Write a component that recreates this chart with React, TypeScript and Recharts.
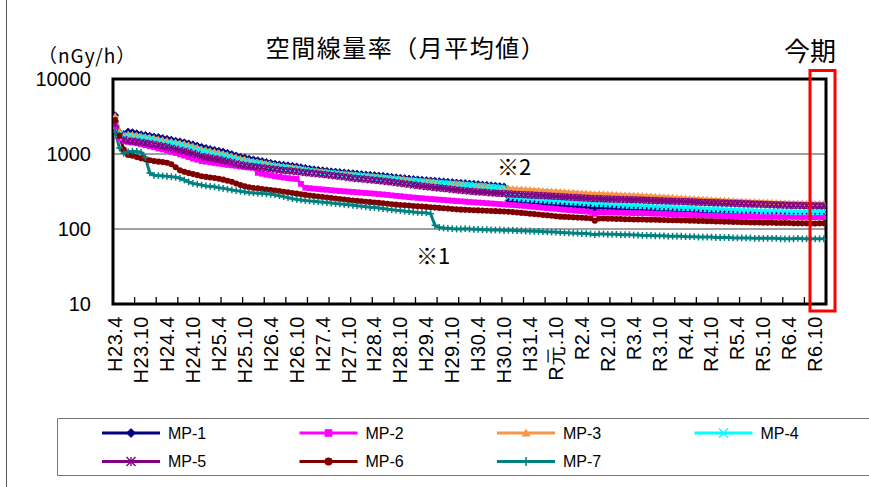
import React from 'react';
import { LineChart, Line, XAxis, YAxis, CartesianGrid, ReferenceArea, Legend } from 'recharts';

// ---------- categories (monthly, H23.4 .. R6.12) ----------
const CATEGORIES: string[] = [
  'H23.4', 'H23.5', 'H23.6', 'H23.7', 'H23.8', 'H23.9', 'H23.10', 'H23.11', 'H23.12',
  'H24.1', 'H24.2', 'H24.3', 'H24.4', 'H24.5', 'H24.6', 'H24.7', 'H24.8', 'H24.9', 'H24.10', 'H24.11', 'H24.12',
  'H25.1', 'H25.2', 'H25.3', 'H25.4', 'H25.5', 'H25.6', 'H25.7', 'H25.8', 'H25.9', 'H25.10', 'H25.11', 'H25.12',
  'H26.1', 'H26.2', 'H26.3', 'H26.4', 'H26.5', 'H26.6', 'H26.7', 'H26.8', 'H26.9', 'H26.10', 'H26.11', 'H26.12',
  'H27.1', 'H27.2', 'H27.3', 'H27.4', 'H27.5', 'H27.6', 'H27.7', 'H27.8', 'H27.9', 'H27.10', 'H27.11', 'H27.12',
  'H28.1', 'H28.2', 'H28.3', 'H28.4', 'H28.5', 'H28.6', 'H28.7', 'H28.8', 'H28.9', 'H28.10', 'H28.11', 'H28.12',
  'H29.1', 'H29.2', 'H29.3', 'H29.4', 'H29.5', 'H29.6', 'H29.7', 'H29.8', 'H29.9', 'H29.10', 'H29.11', 'H29.12',
  'H30.1', 'H30.2', 'H30.3', 'H30.4', 'H30.5', 'H30.6', 'H30.7', 'H30.8', 'H30.9', 'H30.10', 'H30.11', 'H30.12',
  'H31.1', 'H31.2', 'H31.3', 'H31.4',
  'R元.5', 'R元.6', 'R元.7', 'R元.8', 'R元.9', 'R元.10', 'R元.11', 'R元.12',
  'R2.1', 'R2.2', 'R2.3', 'R2.4', 'R2.5', 'R2.6', 'R2.7', 'R2.8', 'R2.9', 'R2.10', 'R2.11', 'R2.12',
  'R3.1', 'R3.2', 'R3.3', 'R3.4', 'R3.5', 'R3.6', 'R3.7', 'R3.8', 'R3.9', 'R3.10', 'R3.11', 'R3.12',
  'R4.1', 'R4.2', 'R4.3', 'R4.4', 'R4.5', 'R4.6', 'R4.7', 'R4.8', 'R4.9', 'R4.10', 'R4.11', 'R4.12',
  'R5.1', 'R5.2', 'R5.3', 'R5.4', 'R5.5', 'R5.6', 'R5.7', 'R5.8', 'R5.9', 'R5.10', 'R5.11', 'R5.12',
  'R6.1', 'R6.2', 'R6.3', 'R6.4', 'R6.5', 'R6.6', 'R6.7', 'R6.8', 'R6.9', 'R6.10', 'R6.11', 'R6.12',
];

// labelled categories (every 6 months) and minor tick marks (every 5 categories, between bands)
const LABEL_TICKS = [0, 6, 12, 18, 24, 30, 36, 42, 48, 54, 60, 66, 72, 78, 84, 90, 96, 102, 108, 114, 120, 126, 132, 138, 144, 150, 156, 162];
const MARK_TICKS = [4.5, 9.5, 14.5, 19.5, 24.5, 29.5, 34.5, 39.5, 44.5, 49.5, 54.5, 59.5, 64.5, 69.5, 74.5, 79.5, 84.5, 89.5, 94.5, 99.5, 104.5, 109.5, 114.5, 119.5, 124.5, 129.5, 134.5, 139.5, 144.5, 149.5, 154.5, 159.5];
const Y_TICKS = [10, 100, 1000, 10000];

// ---------- series values (nGy/h), one row per fiscal year Apr..Mar ----------
const MP1 = [
  3300, 1950, 1850, 2000, 1960, 1900, 1840, 1800, 1760, 1720, 1690, 1640,
  1600, 1560, 1510, 1480, 1440, 1390, 1350, 1300, 1250, 1210, 1170, 1140,
  1110, 1080, 1040, 1000, 960, 920, 900, 870, 850, 830, 810, 785,
  765, 745, 730, 720, 710, 700, 685, 670, 655, 640, 628, 618,
  610, 600, 590, 584, 576, 570, 563, 557, 550, 543, 536, 530,
  525, 519, 513, 506, 499, 491, 485, 478, 472, 466, 461, 456,
  451, 446, 442, 437, 432, 428, 423, 419, 415, 411, 406, 402,
  398, 393, 389, 384, 380, 376, 371, 238, 232, 228, 226, 224,
  222, 220, 218, 217, 215, 214, 212, 211, 209, 207, 205, 204,
  202, 200, 198, 187, 196, 195, 194, 193, 192, 191, 190, 189,
  188, 187, 186, 185, 184, 183, 182, 181, 180, 179, 178, 177,
  176, 175, 174, 172, 171, 170, 169, 168, 167, 166, 165, 164,
  163, 162, 161, 160, 159, 158, 157, 157, 156, 155, 154, 153,
  153, 152, 152, 151, 151, 150, 150, 151, 150,
];
const MP2 = [
  2300, 1600, 1500, 1450, 1420, 1390, 1350, 1310, 1270, 1230, 1180, 1150,
  1110, 1070, 1030, 990, 950, 910, 870, 840, 805, 790, 775, 760,
  745, 730, 715, 705, 695, 680, 670, 660, 655, 560, 545, 530,
  518, 506, 495, 485, 477, 470, 465, 400, 355, 350, 345, 341,
  337, 333, 329, 325, 321, 318, 315, 312, 308, 305, 302, 299,
  296, 292, 289, 285, 281, 277, 274, 270, 266, 263, 260, 257,
  254, 251, 249, 246, 244, 241, 239, 236, 234, 232, 229, 227,
  225, 223, 221, 219, 217, 215, 213, 211, 209, 207, 205, 203,
  200, 197, 195, 192, 190, 188, 186, 183, 181, 179, 177, 175,
  173, 171, 169, 159, 168, 167, 166, 166, 165, 165, 164, 164,
  163, 163, 162, 162, 161, 160, 160, 159, 158, 157, 156, 156,
  155, 154, 153, 152, 151, 151, 150, 150, 149, 149, 148, 148,
  148, 147, 147, 147, 146, 146, 146, 145, 145, 145, 145, 144,
  146, 145, 145, 144, 145, 144, 144, 145, 144,
];
const MP3 = [
  3250, 2050, 1800, 1870, 1840, 1800, 1760, 1720, 1690, 1650, 1600, 1560,
  1530, 1490, 1450, 1420, 1380, 1330, 1290, 1240, 1180, 1150, 1120, 1090,
  1060, 1030, 990, 950, 920, 880, 860, 830, 810, 790, 770, 750,
  730, 710, 700, 690, 680, 670, 655, 640, 625, 610, 600, 590,
  585, 575, 565, 560, 552, 545, 540, 535, 528, 520, 514, 508,
  503, 498, 492, 485, 478, 470, 465, 458, 452, 447, 442, 437,
  433, 428, 424, 419, 414, 410, 406, 402, 398, 394, 389, 385,
  381, 377, 373, 368, 364, 360, 356, 352, 348, 345, 342, 339,
  336, 333, 330, 327, 325, 322, 320, 318, 315, 312, 310, 307,
  305, 302, 300, 296, 298, 296, 294, 292, 290, 288, 287, 285,
  284, 282, 280, 278, 276, 274, 272, 270, 268, 266, 264, 262,
  260, 258, 256, 254, 252, 250, 248, 247, 245, 244, 242, 240,
  239, 237, 236, 234, 233, 231, 230, 229, 228, 226, 225, 224,
  224, 223, 222, 222, 221, 221, 220, 221, 220,
];
const MP4 = [
  2800, 1850, 1700, 1750, 1720, 1690, 1650, 1610, 1570, 1530, 1480, 1440,
  1400, 1370, 1340, 1310, 1270, 1230, 1190, 1140, 1090, 1060, 1030, 1000,
  975, 950, 915, 880, 850, 820, 800, 780, 765, 750, 735, 720,
  700, 685, 670, 660, 650, 640, 628, 615, 603, 592, 582, 572,
  565, 556, 548, 541, 535, 528, 523, 517, 511, 505, 499, 494,
  489, 484, 478, 472, 465, 458, 452, 446, 440, 434, 430, 425,
  421, 416, 412, 407, 403, 399, 395, 391, 387, 383, 379, 375,
  371, 367, 363, 359, 355, 351, 347, 268, 264, 261, 258, 255,
  252, 250, 247, 245, 243, 240, 238, 236, 234, 232, 230, 228,
  226, 224, 222, 218, 220, 218, 216, 214, 212, 210, 209, 207,
  206, 205, 204, 203, 202, 200, 199, 198, 197, 196, 195, 194,
  193, 192, 191, 189, 188, 187, 186, 185, 184, 183, 182, 181,
  180, 179, 178, 178, 177, 176, 175, 175, 174, 174, 173, 173,
  172, 172, 171, 171, 171, 170, 170, 171, 170,
];
const MP5 = [
  2500, 1750, 1550, 1500, 1480, 1460, 1430, 1400, 1370, 1340, 1300, 1270,
  1240, 1200, 1160, 1120, 1090, 1060, 1020, 980, 930, 905, 885, 865,
  845, 820, 795, 770, 745, 720, 705, 690, 680, 670, 658, 645,
  632, 622, 612, 605, 598, 590, 582, 574, 566, 558, 550, 542,
  534, 526, 518, 510, 502, 494, 486, 478, 471, 465, 459, 453,
  447, 441, 435, 428, 421, 414, 407, 400, 393, 386, 380, 374,
  368, 362, 357, 352, 347, 342, 337, 332, 328, 324, 320, 316,
  313, 310, 307, 304, 301, 299, 297, 295, 292, 290, 288, 286,
  284, 282, 280, 278, 276, 274, 272, 270, 268, 266, 264, 262,
  260, 258, 256, 253, 254, 252, 251, 250, 249, 248, 247, 246,
  245, 244, 243, 242, 240, 239, 238, 237, 236, 235, 234, 233,
  232, 231, 229, 228, 227, 226, 225, 224, 223, 222, 221, 220,
  219, 218, 217, 216, 215, 214, 213, 212, 211, 210, 209, 208,
  207, 206, 206, 205, 205, 204, 204, 203, 203,
];
const MP6 = [
  2840, 1750, 1150, 970, 950, 910, 875, 850, 825, 805, 790, 780,
  765, 730, 665, 605, 578, 556, 540, 522, 505, 495, 486, 478,
  468, 455, 440, 425, 405, 385, 370, 360, 352, 348, 342, 336,
  331, 326, 320, 314, 308, 302, 296, 290, 285, 280, 275, 271,
  267, 263, 259, 255, 251, 247, 243, 240, 237, 234, 231, 228,
  225, 223, 220, 217, 214, 211, 209, 207, 205, 203, 201, 199,
  197, 195, 193, 191, 189, 187, 185, 183, 181, 180, 179, 178,
  177, 176, 175, 174, 173, 172, 171, 170, 168, 166, 164, 162,
  160, 158, 156, 154, 152, 150, 148, 146, 145, 144, 143, 142,
  141, 140, 139, 129, 138, 138, 137, 137, 136, 136, 135, 135,
  134, 134, 134, 133, 133, 133, 132, 132, 131, 131, 131, 130,
  130, 129, 129, 128, 128, 127, 127, 126, 126, 125, 125, 124,
  124, 123, 123, 122, 122, 122, 121, 121, 121, 120, 120, 120,
  120, 119, 119, 119, 119, 118, 118, 119, 119,
];
const MP7 = [
  1980, 1200, 1020, 1070, 1090, 1080, 1050, 900, 560, 520, 515, 510,
  505, 498, 490, 475, 450, 425, 405, 395, 385, 375, 370, 365,
  355, 348, 340, 332, 325, 318, 312, 307, 303, 300, 298, 294,
  290, 285, 278, 270, 262, 254, 248, 244, 240, 237, 234, 231,
  228, 225, 222, 219, 216, 213, 210, 207, 204, 201, 198, 195,
  193, 190, 187, 184, 181, 178, 176, 173, 171, 168, 166, 165,
  165, 160, 112, 105, 103, 102, 101, 100, 100, 101, 100, 99,
  99, 98, 98, 97, 97, 97, 96, 96, 96, 95, 95, 94,
  94, 93, 93, 92, 92, 91, 91, 90, 89, 89, 88, 88,
  87, 87, 86, 84, 86, 86, 85, 85, 85, 84, 84, 84,
  83, 83, 82, 82, 82, 81, 81, 81, 80, 80, 80, 80,
  79, 79, 79, 78, 78, 78, 78, 77, 77, 77, 77, 76,
  76, 76, 76, 76, 75, 75, 75, 75, 75, 75, 74, 74,
  74, 74, 75, 74, 74, 74, 74, 74, 74,
];

const SERIES_KEYS = ['mp1', 'mp2', 'mp3', 'mp4', 'mp5', 'mp6', 'mp7'];
const SERIES_NAMES = ['MP-1', 'MP-2', 'MP-3', 'MP-4', 'MP-5', 'MP-6', 'MP-7'];
const SERIES_COLORS = ['#000080', '#FF00FF', '#F79646', '#00FFFF', '#800080', '#800000', '#008080'];
const SERIES_SHAPES = ['diamond', 'square', 'triangle', 'x', 'star', 'circle', 'plus'];
const SERIES_VALUES = [MP1, MP2, MP3, MP4, MP5, MP6, MP7];

const rows = CATEGORIES.map((label, idx) => {
  const r: Record<string, any> = { idx, label };
  SERIES_KEYS.forEach((k, s) => { r[k] = SERIES_VALUES[s][idx]; });
  return r;
});

// ---------- layout ----------
const W = 869;
const H = 487;
const NUM_FONT = '"Liberation Sans", Arial, sans-serif';
const JP_FONT = '"Noto Sans CJK JP", "Noto Sans", sans-serif';

function Marker({ shape, cx, cy, color, s }: { shape: string; cx: number; cy: number; color: string; s: number }) {
  switch (shape) {
    case 'diamond':
      return <path d={`M${cx},${cy - s} L${cx + s},${cy} L${cx},${cy + s} L${cx - s},${cy} Z`} fill={color} stroke={color} strokeWidth={0.8} />;
    case 'square':
      return <rect x={cx - s * 0.85} y={cy - s * 0.85} width={s * 1.7} height={s * 1.7} fill={color} />;
    case 'triangle':
      return <path d={`M${cx},${cy - s} L${cx + s},${cy + s * 0.8} L${cx - s},${cy + s * 0.8} Z`} fill={color} />;
    case 'x':
      return (
        <g stroke={color} strokeWidth={1.4}>
          <line x1={cx - s} y1={cy - s} x2={cx + s} y2={cy + s} />
          <line x1={cx - s} y1={cy + s} x2={cx + s} y2={cy - s} />
        </g>
      );
    case 'star':
      return (
        <g stroke={color} strokeWidth={1.4}>
          <line x1={cx - s} y1={cy - s} x2={cx + s} y2={cy + s} />
          <line x1={cx - s} y1={cy + s} x2={cx + s} y2={cy - s} />
          <line x1={cx} y1={cy - s} x2={cx} y2={cy + s} />
        </g>
      );
    case 'circle':
      return <circle cx={cx} cy={cy} r={s * 0.9} fill={color} />;
    case 'plus':
    default:
      return (
        <g stroke={color} strokeWidth={1.5}>
          <line x1={cx - s} y1={cy} x2={cx + s} y2={cy} />
          <line x1={cx} y1={cy - s} x2={cx} y2={cy + s} />
        </g>
      );
  }
}

const makeDot = (shape: string, color: string) => (p: any) => {
  if (p == null || p.cx == null || p.cy == null) return <g key={`e-${shape}-${p?.index}`} />;
  return (
    <g key={`d-${shape}-${p.index}`}>
      <Marker shape={shape} cx={p.cx} cy={p.cy} color={color} s={3.4} />
    </g>
  );
};

function XTick(props: any) {
  const { x, y, payload } = props;
  const v = payload?.value;
  if (Number.isInteger(v)) {
    return (
      <text
        transform={`translate(${x},${y + 12}) rotate(-90)`}
        textAnchor="end"
        dominantBaseline="central"
        fontSize={20}
        letterSpacing={0.5}
        fontFamily={NUM_FONT}
        fill="#000"
      >
        {CATEGORIES[v]}
      </text>
    );
  }
  return <line x1={x} x2={x} y1={y} y2={y - 7} stroke="#000" strokeWidth={1.3} />;
}

function LegendBox() {
  const colW = 197.5;
  return (
    <svg width={W} height={62} style={{ display: 'block', overflow: 'visible' }}>
      <polyline points={`${W},0.5 57.5,0.5 57.5,57.5 ${W},57.5`} fill="none" stroke="#777" strokeWidth={1} />
      {SERIES_NAMES.map((name, i) => {
        const col = i % 4;
        const row = Math.floor(i / 4);
        const x0 = 102 + col * colW;
        const cy = row === 0 ? 15 : 43.5;
        return (
          <g key={name}>
            <line x1={x0} x2={x0 + 58} y1={cy} y2={cy} stroke={SERIES_COLORS[i]} strokeWidth={3} />
            <Marker shape={SERIES_SHAPES[i]} cx={x0 + 29} cy={cy} color={SERIES_COLORS[i]} s={4.5} />
            <text x={x0 + 66} y={cy} dominantBaseline="central" fontSize={16} fontFamily={NUM_FONT} fill="#000">
              {name}
            </text>
          </g>
        );
      })}
    </svg>
  );
}

export default function App() {
  return (
    <div style={{ position: 'absolute', left: 0, top: 0, width: W, height: H, background: '#fff' }}>
      <LineChart width={W} height={H} data={rows} margin={{ top: 79, right: 43, bottom: 0, left: 0 }}>
        <CartesianGrid vertical={false} stroke="#808080" strokeWidth={1.5} />
        <XAxis
          dataKey="idx"
          type="number"
          domain={[-0.5, 164.5]}
          ticks={[...LABEL_TICKS, ...MARK_TICKS].sort((a, b) => a - b)}
          interval={0}
          allowDataOverflow
          height={183}
          axisLine={false}
          tickLine={false}
          tickSize={0}
          tickMargin={0}
          tick={<XTick />}
        />
        <YAxis
          type="number"
          scale="log"
          domain={[10, 10000]}
          ticks={Y_TICKS}
          interval={0}
          allowDataOverflow
          width={113}
          axisLine={false}
          tickLine={false}
          tickSize={0}
          tickMargin={22}
          tick={{ fontSize: 20, fill: '#000', fontFamily: NUM_FONT }}
        />
        <ReferenceArea
          x1={-0.5}
          x2={164.5}
          y1={10}
          y2={10000}
          fill="none"
          fillOpacity={0}
          stroke="#000"
          strokeWidth={3}
          ifOverflow="visible"
        />
        {SERIES_KEYS.map((k, i) => (
          <Line
            key={k}
            type="linear"
            dataKey={k}
            name={SERIES_NAMES[i]}
            stroke={SERIES_COLORS[i]}
            strokeWidth={3}
            dot={makeDot(SERIES_SHAPES[i], SERIES_COLORS[i])}
            activeDot={false}
            isAnimationActive={false}
          />
        ))}
        <Legend
          layout="horizontal"
          verticalAlign="middle"
          align="center"
          wrapperStyle={{ left: 0, top: 418, width: W, height: 62 }}
          content={() => <LegendBox />}
        />
      </LineChart>
      <svg
        width={W}
        height={H}
        style={{ position: 'absolute', left: 0, top: 0, pointerEvents: 'none', zIndex: 2 }}
      >
        <line x1={6.5} x2={6.5} y1={0} y2={H} stroke="#555" strokeWidth={1} />
        <text x={406} y={57} textAnchor="middle" fontSize={24} letterSpacing={1.5} fontFamily={JP_FONT} fill="#000">
          空間線量率（月平均値）
        </text>
        <text x={38} y={63} fontSize={19} letterSpacing={1} fontFamily={JP_FONT} fill="#000">
          （nGy/h）
        </text>
        <text x={810} y={61} textAnchor="middle" fontSize={26} fontFamily={JP_FONT} fill="#000">
          今期
        </text>
        <rect x={810} y={70.5} width={25} height={240.5} fill="none" stroke="#FF0000" strokeWidth={3} />
        <text x={497} y={175} fontSize={22} fontFamily={JP_FONT} fill="#000">
          ※2
        </text>
        <text x={416} y={264} fontSize={22} fontFamily={JP_FONT} fill="#000">
          ※1
        </text>
      </svg>
    </div>
  );
}
